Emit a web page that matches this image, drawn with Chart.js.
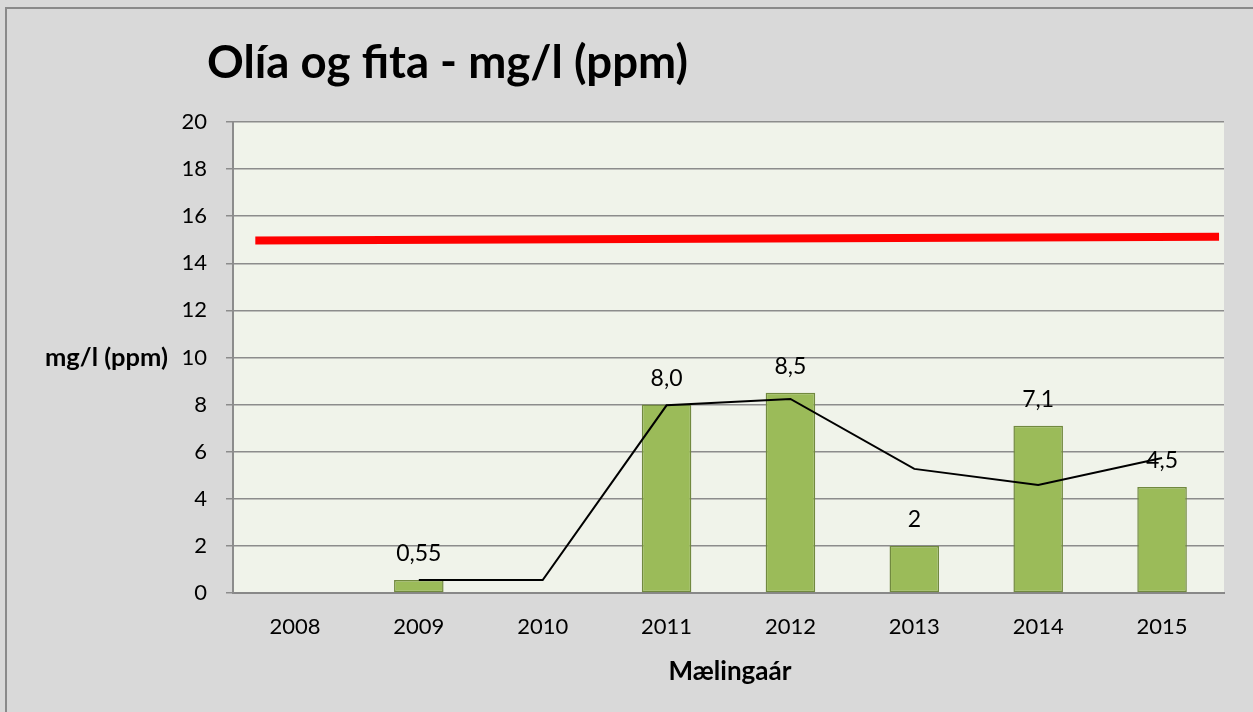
<!DOCTYPE html>
<html>
<head>
<meta charset="utf-8">
<script src="https://cdn.jsdelivr.net/npm/chart.js@4.4.1/dist/chart.umd.min.js"></script>
<style>
html,body{margin:0;padding:0;background:#d9d9d9;}
#wrap{width:1253px;height:712px;position:relative;}
</style>
</head>
<body>
<div id="wrap"><canvas id="c" width="1253" height="712"></canvas></div>
<script>
const chartTitle = 'Olía og fita - mg/l (ppm)';
const yTitle = 'mg/l (ppm)';
const xTitle = 'Mælingaár';
const years = ['2008','2009','2010','2011','2012','2013','2014','2015'];
const measured = [null, 0.55, null, 8.0, 8.5, 2, 7.1, 4.5];
const valueLabels = ['', '0,55', '', '8,0', '8,5', '2', '7,1', '4,5'];
const trend = [null, 0.55, 0.55, 7.97, 8.24, 5.27, 4.59, 5.73];
const limitX = [-0.32, 7.46];
const limitY = [14.97, 15.13];
const yMin = 0, yMax = 20, yStep = 2;

const FONT = 'Lato, "Open Sans", sans-serif';

const bgPlugin = {
  id: 'bg',
  beforeDraw(chart) {
    const ctx = chart.ctx, a = chart.chartArea;
    ctx.save();
    ctx.fillStyle = '#d9d9d9';
    ctx.fillRect(0, 0, chart.width, chart.height);
    ctx.strokeStyle = '#8a8a8a';
    ctx.lineWidth = 2;
    ctx.strokeRect(6, 8, chart.width + 20, chart.height + 20);
    ctx.fillStyle = '#f0f3ea';
    ctx.fillRect(a.left, a.top, a.right - a.left, a.bottom - a.top);
    ctx.restore();
  }
};

function fitText(ctx, text, weight, targetW, baseSize) {
  ctx.font = weight + ' ' + baseSize + 'px ' + FONT;
  const w = ctx.measureText(text).width;
  const size = baseSize * targetW / w;
  ctx.font = weight + ' ' + size + 'px ' + FONT;
}

const textPlugin = {
  id: 'texts',
  afterDraw(chart) {
    const ctx = chart.ctx;
    ctx.save();
    ctx.fillStyle = '#000';
    fitText(ctx, chartTitle, 'bold', 481, 40);
    ctx.textAlign = 'left';
    ctx.textBaseline = 'alphabetic';
    ctx.fillText(chartTitle, 207, 78);
    fitText(ctx, yTitle, 'bold', 123, 18);
    ctx.textBaseline = 'middle';
    ctx.fillText(yTitle, 45, 358);
    fitText(ctx, xTitle, 'bold', 123, 18);
    ctx.textAlign = 'center';
    ctx.fillText(xTitle, 730, 672);
    ctx.restore();
  },
  afterDatasetsDraw(chart) {
    const ctx = chart.ctx;
    const meta = chart.getDatasetMeta(0);
    ctx.save();
    ctx.fillStyle = '#000';
    ctx.font = '23px ' + FONT;
    ctx.textAlign = 'center';
    ctx.textBaseline = 'middle';
    meta.data.forEach((el, i) => {
      if (measured[i] == null || !valueLabels[i]) return;
      ctx.fillText(valueLabels[i], el.x, el.y - 26);
    });
    ctx.restore();
  }
};

new Chart(document.getElementById('c'), {
  type: 'bar',
  data: {
    labels: years,
    datasets: [
      {
        type: 'bar',
        label: 'Mæling',
        data: measured,
        backgroundColor: '#9bbb59',
        borderColor: '#71893f',
        borderWidth: 1.5,
        borderSkipped: false,
        barPercentage: 0.4,
        categoryPercentage: 1.0,
        grouped: false,
        order: 2
      },
      {
        type: 'line',
        label: 'Hlaupandi meðaltal',
        data: trend,
        borderColor: '#000',
        borderWidth: 2,
        pointRadius: 0,
        tension: 0,
        fill: false,
        spanGaps: false,
        order: 1
      },
      {
        type: 'line',
        label: 'Viðmiðunarmörk',
        xAxisID: 'xLimit',
        data: [{x: limitX[0], y: limitY[0]}, {x: limitX[1], y: limitY[1]}],
        borderColor: '#ff0000',
        borderWidth: 8,
        borderCapStyle: 'butt',
        pointRadius: 0,
        fill: false,
        order: 0
      }
    ]
  },
  options: {
    responsive: false,
    animation: false,
    layout: { padding: { left: 173, right: 29, top: 122, bottom: 69 } },
    plugins: {
      legend: { display: false },
      title: { display: false },
      tooltip: { enabled: false }
    },
    scales: {
      x: {
        type: 'category',
        offset: true,
        grid: { display: false, drawTicks: false },
        border: { display: true, color: '#888', width: 2 },
        ticks: { color: '#000', font: { family: FONT, size: 22 }, padding: 21, maxRotation: 0 },
        afterFit(s) { s.height = 50; }
      },
      xLimit: {
        type: 'linear',
        display: false,
        offset: false,
        bounds: 'ticks',
        min: -0.5,
        max: 7.5
      },
      y: {
        min: yMin,
        max: yMax,
        ticks: { stepSize: yStep, color: '#000', font: { family: FONT, size: 22 }, padding: 19 },
        grid: { color: '#8c8c8c', lineWidth: 1.5, tickLength: 7, drawTicks: true },
        border: { display: true, color: '#8c8c8c', width: 2 },
        afterFit(s) { s.width = 60; }
      }
    }
  },
  plugins: [bgPlugin, textPlugin]
});
</script>
</body>
</html>
